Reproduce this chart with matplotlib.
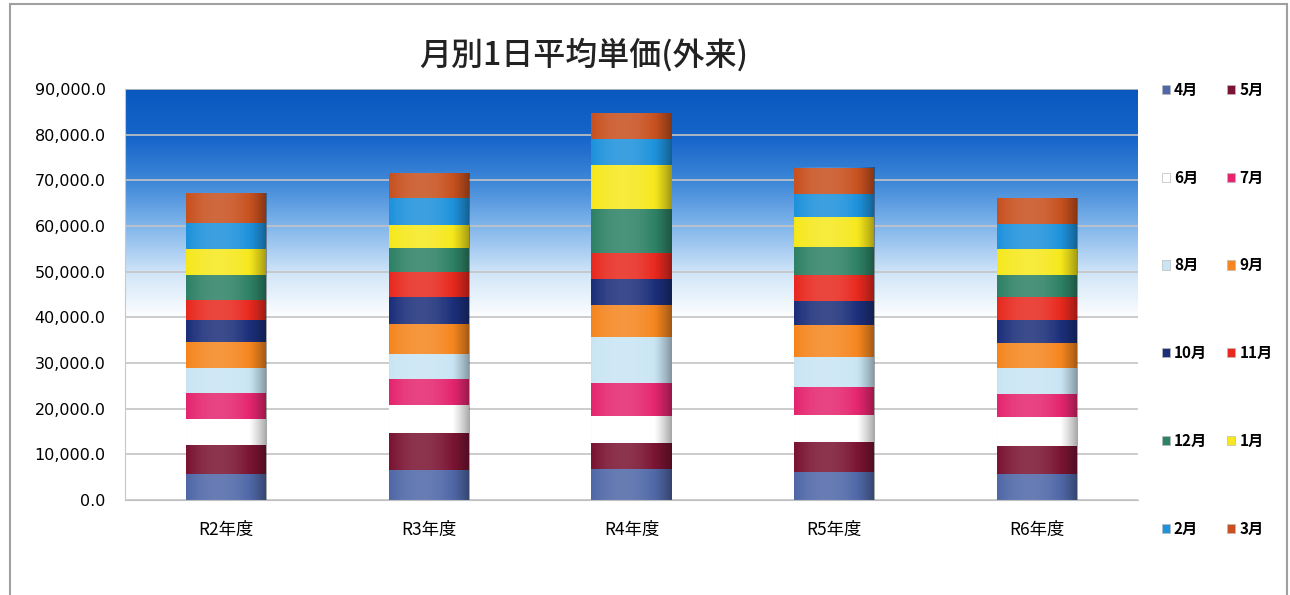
import numpy as np
import matplotlib
matplotlib.use("Agg")
import matplotlib.pyplot as plt
from matplotlib.patches import Rectangle
from matplotlib.colors import LinearSegmentedColormap

plt.rcParams["font.family"] = ["Noto Sans CJK JP", "DejaVu Sans"]

years = ["R2年度", "R3年度", "R4年度", "R5年度", "R6年度"]
months = ["4月", "5月", "6月", "7月", "8月", "9月", "10月", "11月", "12月", "1月", "2月", "3月"]

# values per month, one entry per year
apr = [5800, 6600, 6800, 6200, 5700]
may = [6200, 8000, 5600, 6600, 6100]
jun = [5700, 6200, 6000, 5800, 6300]
jul = [5700, 5800, 7200, 6200, 5100]
aug = [5600, 5300, 10000, 6600, 5600]
sep = [5500, 6600, 7100, 6900, 5600]
oct_ = [4900, 6000, 5600, 5300, 5000]
nov = [4500, 5500, 5700, 5700, 5000]
dec = [5400, 5100, 9700, 6000, 4900]
jan = [5600, 5100, 9700, 6700, 5700]
feb = [5800, 6000, 5600, 4900, 5400]
mar = [6500, 5300, 5700, 5900, 5700]
series = [apr, may, jun, jul, aug, sep, oct_, nov, dec, jan, feb, mar]

colors = ["#5068a8", "#7a1433", "#ffffff", "#e5266f", "#c9e5f4", "#f5861f",
          "#1c2f7a", "#e8291f", "#2e8266", "#f6e81c", "#1e92dc", "#c8511f"]

yticks = np.arange(0, 90001, 10000)

fig = plt.figure(figsize=(12.9, 5.95), dpi=100)
ax = fig.add_axes([125 / 1290, 95 / 595, 1013 / 1290, 411 / 595])

x = np.arange(len(years))
width = 0.395

# background gradient: dark blue at top fading to white
bg = LinearSegmentedColormap.from_list(
    "bg", [(0.0, "#ffffff"), (0.44, "#ffffff"), (0.55, "#d2e6f8"),
           (0.66, "#86b8ec"), (0.77, "#418ad9"), (0.88, "#1766ca"), (1.0, "#0858bf")])
grad = np.linspace(0, 1, 256).reshape(-1, 1)
ax.imshow(grad, cmap=bg, origin="lower", aspect="auto",
          extent=[-0.5, 4.5, 0, 90000], zorder=0)

# stacked bars
bottom = np.zeros(len(years))
handles = []
for vals, name, c in zip(series, months, colors):
    b = ax.bar(x, vals, width, bottom=bottom, color=c, label=name,
               edgecolor="none", zorder=2)
    handles.append(b)
    bottom = bottom + np.array(vals)

# cylinder-like shading across each stack
t = np.linspace(0, 1, 200)
s = 0.7 - 1.7 * ((t - 0.4) / 0.6) ** 2
shade = np.zeros((1, len(t), 4))
shade[0, :, :3] = np.where(s[:, None] > 0, 1.0, 0.0)
shade[0, :, 3] = np.where(s > 0, s * 0.2, -s * 0.35)
for xi, total in zip(x, bottom):
    ax.imshow(shade, aspect="auto", extent=[xi - width / 2, xi + width / 2, 0, total],
              zorder=3, interpolation="bilinear")

ax.set_xlim(-0.5, 4.5)
ax.set_ylim(0, 90000)
ax.set_yticks(yticks)
ax.set_yticklabels([f"{v:,.1f}" for v in yticks], family="DejaVu Sans", fontsize=11.5)
ax.set_xticks(x)
ax.set_xticklabels(years, fontsize=12.5)
ax.tick_params(axis="x", length=0, pad=15)
ax.tick_params(axis="y", length=0, pad=14)
ax.set_axisbelow(True)
ax.grid(axis="y", color="#c4c4c4", linewidth=1.2, zorder=0.5)
for sp in ["top", "right"]:
    ax.spines[sp].set_visible(False)
ax.spines["left"].set_color("#c8c8c8")
ax.spines["bottom"].set_color("#c0c0c0")

fig.text(584 / 1290, 1 - 55 / 595, "月別1日平均単価(外来)", ha="center", va="center",
         fontsize=23, fontweight="medium", color="#222222")

# legend laid out row by row: 4月 5月 / 6月 7月 / ...
order = [0, 2, 4, 6, 8, 10, 1, 3, 5, 7, 9, 11]
leg = fig.legend([handles[i] for i in order], [months[i] for i in order],
                 loc="upper left", bbox_to_anchor=(1148 / 1290, 1 - 68 / 595),
                 ncol=2, frameon=False, fontsize=11, handlelength=0.55, handleheight=0.55,
                 handletextpad=0.25, columnspacing=1.3, labelspacing=4.7)
for txt in leg.get_texts():
    txt.set_fontweight("bold")
for h in leg.legend_handles:
    h.set_edgecolor("#bbbbbb")
    h.set_linewidth(0.5)

# grey frame around the chart area
fig.patches.append(Rectangle((10 / 1290, -0.1), 1277 / 1290, 0.1 + 591 / 595,
                             transform=fig.transFigure, fill=False,
                             edgecolor="#a0a0a0", linewidth=1.5))

plt.savefig("out.png", dpi=100)
